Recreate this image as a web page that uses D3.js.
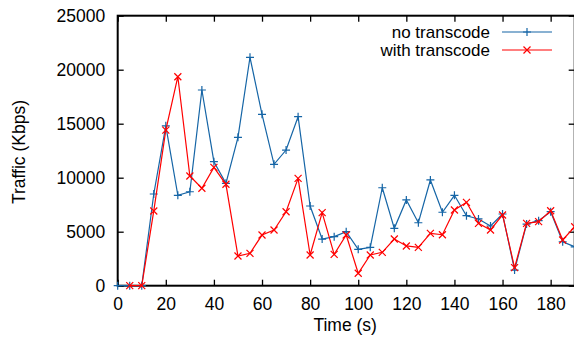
<!DOCTYPE html>
<html>
<head>
<meta charset="utf-8">
<script src="https://cdn.jsdelivr.net/npm/d3@7"></script>
<style>
  html, body { margin: 0; padding: 0; background: #fff; }
  svg { display: block; font-family: "Liberation Sans", Arial, Helvetica, sans-serif; }
</style>
</head>
<body>
<div id="chart"></div>
<script>
// time in seconds
const timeNoTranscode = [0, 5, 10, 15, 20, 25, 30, 35, 40, 45, 50, 55, 60, 65, 70, 75, 80, 85, 90, 95,
  100, 105, 110, 115, 120, 125, 130, 135, 140, 145, 150, 155, 160, 165, 170, 175, 180, 185, 190];
const noTranscode = [0, 0, 0, 8490, 14800, 8370, 8700, 18120, 11480, 9480, 13740, 21150, 15870, 11240, 12560, 15650, 7380, 4320, 4540, 5000,
  3370, 3550, 9070, 5310, 7940, 5830, 9790, 6800, 8370, 6480, 6180, 5530, 6640, 1450, 5710, 6020, 6850, 4070, 3600];

const timeWithTranscode = [5, 10, 15, 20, 25, 30, 35, 40, 45, 50, 55, 60, 65, 70, 75, 80, 85, 90, 95,
  100, 105, 110, 115, 120, 125, 130, 135, 140, 145, 150, 155, 160, 165, 170, 175, 180, 185, 190];
const withTranscode = [0, 0, 6920, 14400, 19350, 10160, 9020, 10960, 9390, 2750, 3000, 4690, 5160, 6850, 9940, 2840, 6760, 2900, 4690,
  1150, 2840, 3090, 4320, 3680, 3550, 4850, 4720, 7010, 7720, 5770, 5160, 6550, 1670, 5770, 5930, 6940, 4230, 5460];

const xTicks = [0, 20, 40, 60, 80, 100, 120, 140, 160, 180];
const yTicks = [0, 5000, 10000, 15000, 20000, 25000];
const seriesNames = ['no transcode', 'with transcode'];

const width = 574;
const height = 343;
const plotLeft = 117.7, plotRight = 574.7, plotTop = 15.7, plotBottom = 285.7;
const fontSize = '17.5px';
const blue = '#1565a6';
const red = '#ff0000';

const svg = d3.select('#chart').append('svg')
  .attr('width', width)
  .attr('height', height);

const x = d3.scaleLinear().domain([0, 190]).range([plotLeft, plotRight]);
const y = d3.scaleLinear().domain([0, 25000]).range([plotBottom, plotTop]);

// marker shapes
function plusPath(s) {
  return 'M' + (-s) + ',0H' + s + 'M0,' + (-s) + 'V' + s;
}
function crossPath(s) {
  return 'M' + (-s) + ',' + (-s) + 'L' + s + ',' + s + 'M' + (-s) + ',' + s + 'L' + s + ',' + (-s);
}

// axes (ticks pointing inwards)
const bottomAxis = svg.append('g')
  .attr('transform', 'translate(0,' + plotBottom + ')')
  .call(d3.axisBottom(x).tickValues(xTicks).tickSizeInner(-6).tickSizeOuter(0).tickPadding(11.5));
const topAxis = svg.append('g')
  .attr('transform', 'translate(0,' + plotTop + ')')
  .call(d3.axisTop(x).tickValues(xTicks).tickSizeInner(-6).tickSizeOuter(0).tickFormat(''));
const leftAxis = svg.append('g')
  .attr('transform', 'translate(' + plotLeft + ',0)')
  .call(d3.axisLeft(y).tickValues(yTicks).tickSizeInner(-6).tickSizeOuter(0).tickPadding(12.5).tickFormat(d3.format('d')));
const rightAxis = svg.append('g')
  .attr('transform', 'translate(' + plotRight + ',0)')
  .call(d3.axisRight(y).tickValues(yTicks).tickSizeInner(-6).tickSizeOuter(0).tickFormat(''));

[bottomAxis, topAxis, leftAxis, rightAxis].forEach((a) => {
  a.select('.domain').remove();
  a.selectAll('line').attr('stroke', '#000').attr('stroke-width', 1.3);
  a.selectAll('text')
    .attr('fill', '#000')
    .style('font-size', fontSize)
    .style('font-family', '"Liberation Sans", Arial, sans-serif');
});

svg.append('rect')
  .attr('x', plotLeft)
  .attr('y', plotTop)
  .attr('width', plotRight - plotLeft)
  .attr('height', plotBottom - plotTop)
  .attr('fill', 'none')
  .attr('stroke', '#000')
  .attr('stroke-width', 2);

// axis titles
svg.append('text')
  .attr('x', (plotLeft + plotRight) / 2 - 1)
  .attr('y', 331)
  .attr('text-anchor', 'middle')
  .style('font-size', fontSize)
  .text('Time (s)');

svg.append('text')
  .attr('transform', 'translate(25,152) rotate(-90)')
  .attr('text-anchor', 'middle')
  .style('font-size', fontSize)
  .text('Traffic (Kbps)');

// series
const plot = svg.append('g');

function drawSeries(times, values, color, marker) {
  const pts = times.map((t, i) => [t, values[i]]);
  plot.append('path')
    .datum(pts)
    .attr('fill', 'none')
    .attr('stroke', color)
    .attr('stroke-width', 1.2)
    .attr('d', d3.line().x((d) => x(d[0])).y((d) => y(d[1])));
  plot.selectAll(null)
    .data(pts)
    .enter().append('path')
    .attr('transform', (d) => 'translate(' + x(d[0]) + ',' + y(d[1]) + ')')
    .attr('d', marker)
    .attr('fill', 'none')
    .attr('stroke', color)
    .attr('stroke-width', 1.2);
}

drawSeries(timeNoTranscode, noTranscode, blue, plusPath(4));
drawSeries(timeWithTranscode, withTranscode, red, crossPath(3.5));

// legend
const legend = svg.append('g');
const legendColors = [blue, red];
const legendMarkers = [plusPath(4), crossPath(3.5)];
seriesNames.forEach((name, i) => {
  const ly = 32 + i * 18;
  legend.append('text')
    .attr('x', 490)
    .attr('y', ly + 6)
    .attr('text-anchor', 'end')
    .style('font-size', '17px')
    .text(name);
  legend.append('line')
    .attr('x1', 502).attr('x2', 552)
    .attr('y1', ly).attr('y2', ly)
    .attr('stroke', legendColors[i])
    .attr('stroke-width', 1.2);
  legend.append('path')
    .attr('transform', 'translate(527,' + ly + ')')
    .attr('d', legendMarkers[i])
    .attr('fill', 'none')
    .attr('stroke', legendColors[i])
    .attr('stroke-width', 1.2);
});
</script>
</body>
</html>
